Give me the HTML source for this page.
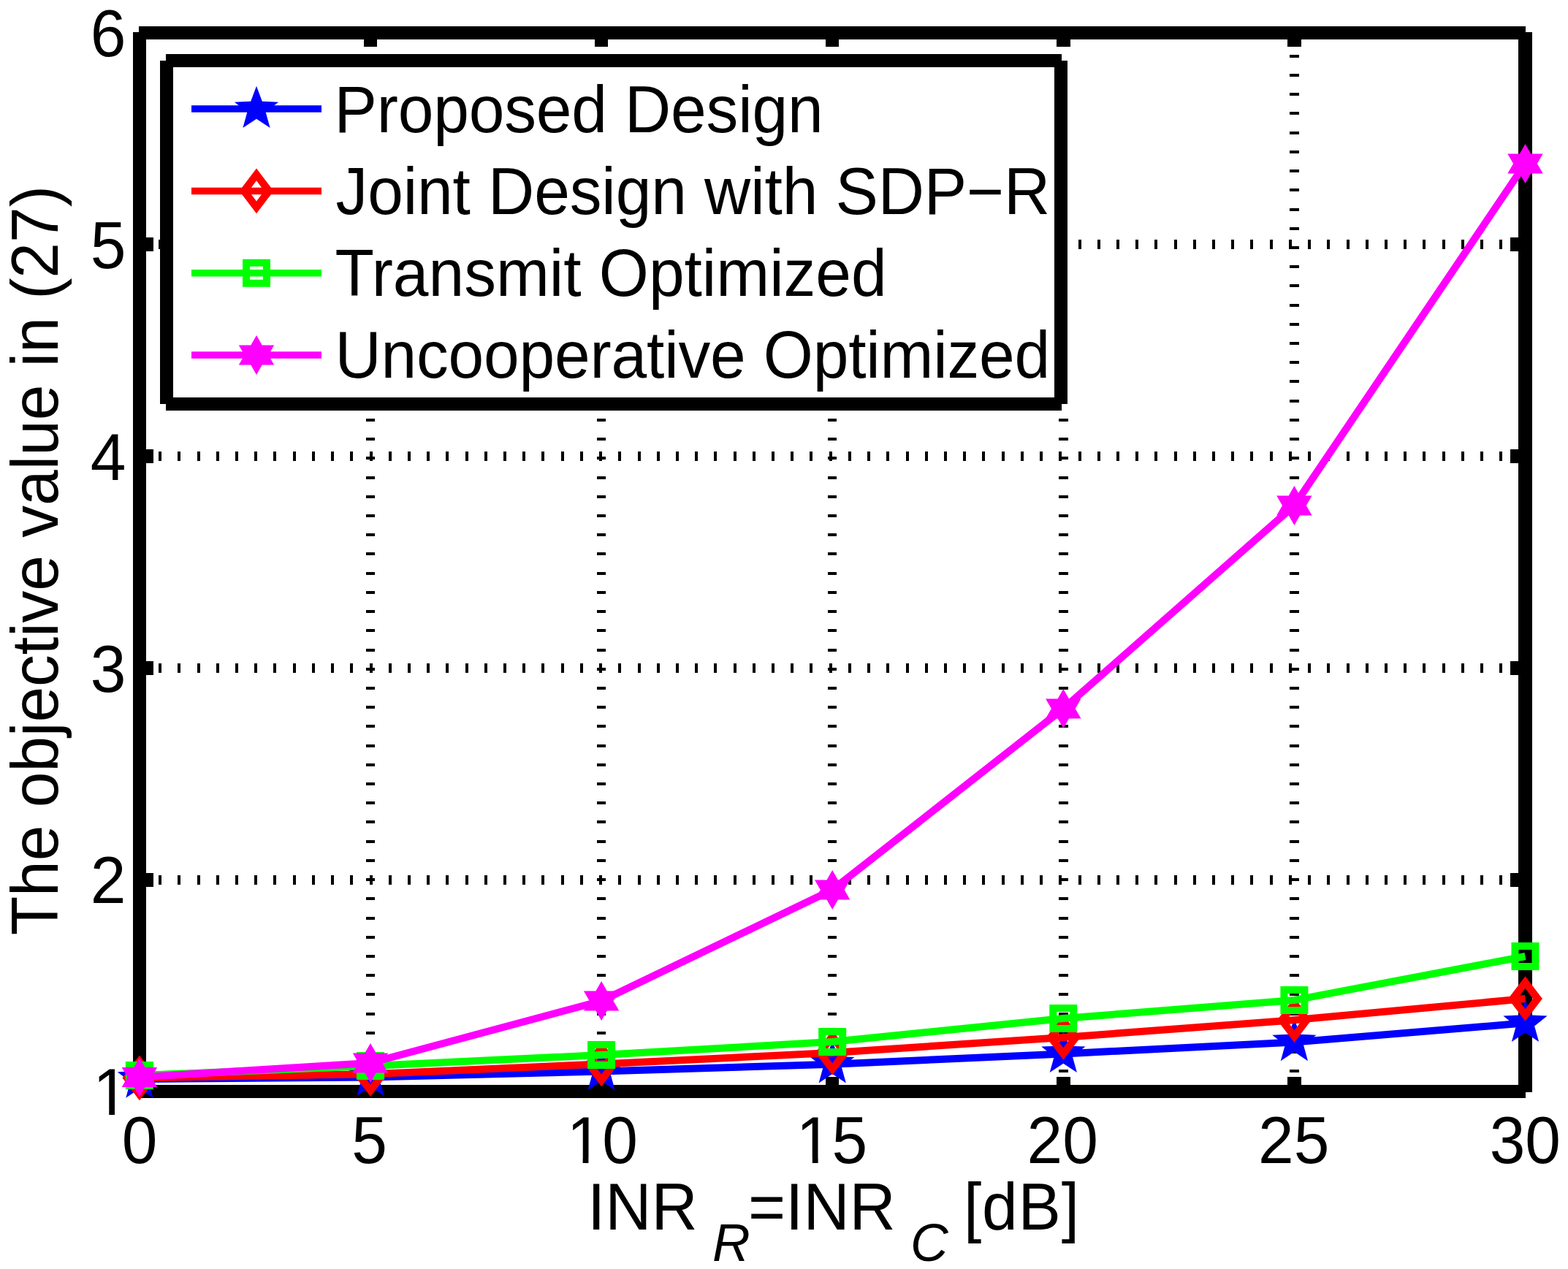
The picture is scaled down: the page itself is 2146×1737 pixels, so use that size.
<!DOCTYPE html>
<html><head><meta charset="utf-8"><title>The objective value in (27) vs INR</title>
<style>html,body{margin:0;padding:0;background:#fff;}svg{display:block;}text{font-family:"Liberation Sans",Arial,Helvetica,sans-serif;fill:#000;}</style></head><body>
<svg width="2146" height="1737" viewBox="0 0 2146 1737">
<rect x="0" y="0" width="2146" height="1737" fill="#fff"/>
<g stroke="#000" stroke-width="12.5" stroke-dasharray="4 22.217" fill="none" shape-rendering="crispEdges">
<line x1="507" y1="1494.5" x2="507" y2="44.5"/>
<line x1="823.1" y1="1494.5" x2="823.1" y2="44.5"/>
<line x1="1139.2" y1="1494.5" x2="1139.2" y2="44.5"/>
<line x1="1455.3" y1="1494.5" x2="1455.3" y2="44.5"/>
<line x1="1771.4" y1="1494.5" x2="1771.4" y2="44.5"/>
<line x1="190.9" y1="1204.5" x2="2087.5" y2="1204.5"/>
<line x1="190.9" y1="914.5" x2="2087.5" y2="914.5"/>
<line x1="190.9" y1="624.5" x2="2087.5" y2="624.5"/>
<line x1="190.9" y1="334.5" x2="2087.5" y2="334.5"/>
</g>
<g fill="#000" shape-rendering="crispEdges">
<rect x="190" y="36" width="1898" height="18"/>
<rect x="190" y="1485" width="1898" height="18"/>
<rect x="182" y="44" width="18" height="1451"/>
<rect x="2078" y="44" width="19" height="1451"/>
<rect x="497.75" y="54" width="18.5" height="10"/>
<rect x="497.75" y="1474" width="18.5" height="11"/>
<rect x="813.85" y="54" width="18.5" height="10"/>
<rect x="813.85" y="1474" width="18.5" height="11"/>
<rect x="1129.95" y="54" width="18.5" height="10"/>
<rect x="1129.95" y="1474" width="18.5" height="11"/>
<rect x="1446.05" y="54" width="18.5" height="10"/>
<rect x="1446.05" y="1474" width="18.5" height="11"/>
<rect x="1762.15" y="54" width="18.5" height="10"/>
<rect x="1762.15" y="1474" width="18.5" height="11"/>
<rect x="200" y="1195.25" width="10" height="18.5"/>
<rect x="2067" y="1195.25" width="11" height="18.5"/>
<rect x="200" y="905.25" width="10" height="18.5"/>
<rect x="2067" y="905.25" width="11" height="18.5"/>
<rect x="200" y="615.25" width="10" height="18.5"/>
<rect x="2067" y="615.25" width="11" height="18.5"/>
<rect x="200" y="325.25" width="10" height="18.5"/>
<rect x="2067" y="325.25" width="11" height="18.5"/>
</g>
<polyline points="190.9,1477 507,1474.4 823.1,1466.6 1139.2,1456.75 1455.3,1442.4 1771.4,1426.5 2087.5,1400.3" fill="none" stroke="#0000ff" stroke-width="10" stroke-linejoin="round" stroke-linecap="butt"/>
<path d="M190.9,1445.3 L198.72,1466.24 L221.05,1467.2 L203.55,1481.11 L209.53,1502.65 L190.9,1490.3 L172.27,1502.65 L178.25,1481.11 L160.75,1467.2 L183.08,1466.24Z M507,1442.7 L514.82,1463.64 L537.15,1464.6 L519.65,1478.51 L525.63,1500.05 L507,1487.7 L488.37,1500.05 L494.35,1478.51 L476.85,1464.6 L499.18,1463.64Z M823.1,1434.9 L830.92,1455.84 L853.25,1456.8 L835.75,1470.71 L841.73,1492.25 L823.1,1479.9 L804.47,1492.25 L810.45,1470.71 L792.95,1456.8 L815.28,1455.84Z M1139.2,1425.05 L1147.02,1445.99 L1169.35,1446.95 L1151.85,1460.86 L1157.83,1482.4 L1139.2,1470.05 L1120.57,1482.4 L1126.55,1460.86 L1109.05,1446.95 L1131.38,1445.99Z M1455.3,1410.7 L1463.12,1431.64 L1485.45,1432.6 L1467.95,1446.51 L1473.93,1468.05 L1455.3,1455.7 L1436.67,1468.05 L1442.65,1446.51 L1425.15,1432.6 L1447.48,1431.64Z M1771.4,1394.8 L1779.22,1415.74 L1801.55,1416.7 L1784.05,1430.61 L1790.03,1452.15 L1771.4,1439.8 L1752.77,1452.15 L1758.75,1430.61 L1741.25,1416.7 L1763.58,1415.74Z M2087.5,1368.6 L2095.32,1389.54 L2117.65,1390.5 L2100.15,1404.41 L2106.13,1425.95 L2087.5,1413.6 L2068.87,1425.95 L2074.85,1404.41 L2057.35,1390.5 L2079.68,1389.54Z" fill="#0000ff" fill-rule="evenodd"/>
<polyline points="190.9,1475.4 507,1470.2 823.1,1456.4 1139.2,1441 1455.3,1420 1771.4,1396.2 2087.5,1367" fill="none" stroke="#ff0000" stroke-width="10" stroke-linejoin="round" stroke-linecap="butt"/>
<path d="M190.9,1444.6 L214.3,1475.4 L190.9,1506.2 L167.5,1475.4Z M190.9,1461.2 L180.5,1475.4 L190.9,1489.6 L201.3,1475.4Z M507,1439.4 L530.4,1470.2 L507,1501 L483.6,1470.2Z M507,1456 L496.6,1470.2 L507,1484.4 L517.4,1470.2Z M823.1,1425.6 L846.5,1456.4 L823.1,1487.2 L799.7,1456.4Z M823.1,1442.2 L812.7,1456.4 L823.1,1470.6 L833.5,1456.4Z M1139.2,1410.2 L1162.6,1441 L1139.2,1471.8 L1115.8,1441Z M1139.2,1426.8 L1128.8,1441 L1139.2,1455.2 L1149.6,1441Z M1455.3,1389.2 L1478.7,1420 L1455.3,1450.8 L1431.9,1420Z M1455.3,1405.8 L1444.9,1420 L1455.3,1434.2 L1465.7,1420Z M1771.4,1365.4 L1794.8,1396.2 L1771.4,1427 L1748,1396.2Z M1771.4,1382 L1761,1396.2 L1771.4,1410.4 L1781.8,1396.2Z M2087.5,1336.2 L2110.9,1367 L2087.5,1397.8 L2064.1,1367Z M2087.5,1352.8 L2077.1,1367 L2087.5,1381.2 L2097.9,1367Z" fill="#ff0000" fill-rule="evenodd"/>
<polyline points="190.9,1472 507,1459 823.1,1444 1139.2,1426 1455.3,1394 1771.4,1369 2087.5,1309" fill="none" stroke="#00ff00" stroke-width="10" stroke-linejoin="round" stroke-linecap="butt"/>
<path d="M171.9,1453 h38 v38 h-38 Z M181.9,1463 v18 h18 v-18 Z M488,1440 h38 v38 h-38 Z M498,1450 v18 h18 v-18 Z M804.1,1425 h38 v38 h-38 Z M814.1,1435 v18 h18 v-18 Z M1120.2,1407 h38 v38 h-38 Z M1130.2,1417 v18 h18 v-18 Z M1436.3,1375 h38 v38 h-38 Z M1446.3,1385 v18 h18 v-18 Z M1752.4,1350 h38 v38 h-38 Z M1762.4,1360 v18 h18 v-18 Z M2068.5,1290 h38 v38 h-38 Z M2078.5,1300 v18 h18 v-18 Z" fill="#00ff00" fill-rule="evenodd"/>
<polyline points="190.9,1474.4 507,1455 823.1,1370 1139.2,1218 1455.3,970 1771.4,692 2087.5,224" fill="none" stroke="#ff00ff" stroke-width="10" stroke-linejoin="round" stroke-linecap="butt"/>
<path d="M190.9,1447.4 L198.6,1460.9 L215.1,1460.9 L207.3,1474.4 L215.1,1487.9 L198.6,1487.9 L190.9,1501.4 L183.2,1487.9 L166.7,1487.9 L174.5,1474.4 L166.7,1460.9 L183.2,1460.9Z M507,1428 L514.7,1441.5 L531.2,1441.5 L523.4,1455 L531.2,1468.5 L514.7,1468.5 L507,1482 L499.3,1468.5 L482.8,1468.5 L490.6,1455 L482.8,1441.5 L499.3,1441.5Z M823.1,1343 L830.8,1356.5 L847.3,1356.5 L839.5,1370 L847.3,1383.5 L830.8,1383.5 L823.1,1397 L815.4,1383.5 L798.9,1383.5 L806.7,1370 L798.9,1356.5 L815.4,1356.5Z M1139.2,1191 L1146.9,1204.5 L1163.4,1204.5 L1155.6,1218 L1163.4,1231.5 L1146.9,1231.5 L1139.2,1245 L1131.5,1231.5 L1115,1231.5 L1122.8,1218 L1115,1204.5 L1131.5,1204.5Z M1455.3,943 L1463,956.5 L1479.5,956.5 L1471.7,970 L1479.5,983.5 L1463,983.5 L1455.3,997 L1447.6,983.5 L1431.1,983.5 L1438.9,970 L1431.1,956.5 L1447.6,956.5Z M1771.4,665 L1779.1,678.5 L1795.6,678.5 L1787.8,692 L1795.6,705.5 L1779.1,705.5 L1771.4,719 L1763.7,705.5 L1747.2,705.5 L1755,692 L1747.2,678.5 L1763.7,678.5Z M2087.5,197 L2095.2,210.5 L2111.7,210.5 L2103.9,224 L2111.7,237.5 L2095.2,237.5 L2087.5,251 L2079.8,237.5 L2063.3,237.5 L2071.1,224 L2063.3,210.5 L2079.8,210.5Z" fill="#ff00ff" fill-rule="nonzero"/>
<defs>
<clipPath id="c10" clipPathUnits="userSpaceOnUse"><rect x="755.65" y="1472.3" width="400" height="112.6"/><rect x="797.65" y="1584.4" width="7.75" height="12"/><rect x="824.3" y="1584.4" width="300" height="12"/></clipPath>
<clipPath id="c15" clipPathUnits="userSpaceOnUse"><rect x="1069.85" y="1472.3" width="400" height="112.6"/><rect x="1111.85" y="1584.4" width="7.75" height="12"/><rect x="1138.5" y="1584.4" width="300" height="12"/></clipPath>
<clipPath id="c1" clipPathUnits="userSpaceOnUse"><rect x="107.25" y="1405.8" width="400" height="112.6"/><rect x="149.25" y="1517.9" width="7.75" height="12"/><rect x="175.9" y="1517.9" width="300" height="12"/></clipPath>
</defs>
<g>
<text transform="translate(191,1592.3) scale(1,1.03)" font-size="87.5" text-anchor="middle">0</text>
<text transform="translate(505.6,1592.3) scale(1,1.03)" font-size="87.5" text-anchor="middle">5</text>
<g clip-path="url(#c10)"><text transform="translate(824.3,1592.3) scale(1,1.03)" font-size="87.5" text-anchor="middle">10</text></g>
<g clip-path="url(#c15)"><text transform="translate(1138.5,1592.3) scale(1,1.03)" font-size="87.5" text-anchor="middle">15</text></g>
<text transform="translate(1454.2,1592.3) scale(1,1.03)" font-size="87.5" text-anchor="middle">20</text>
<text transform="translate(1770.7,1592.3) scale(1,1.03)" font-size="87.5" text-anchor="middle">25</text>
<text transform="translate(2087.3,1592.3) scale(1,1.03)" font-size="87.5" text-anchor="middle">30</text>
<g clip-path="url(#c1)"><text transform="translate(175.9,1525.8) scale(1,1.03)" font-size="87.5" text-anchor="end">1</text></g>
<text transform="translate(172.5,1235.9) scale(1,1.03)" font-size="87.5" text-anchor="end">2</text>
<text transform="translate(172.5,947) scale(1,1.03)" font-size="87.5" text-anchor="end">3</text>
<text transform="translate(172.5,656.8) scale(1,1.03)" font-size="87.5" text-anchor="end">4</text>
<text transform="translate(172.5,366.7) scale(1,1.03)" font-size="87.5" text-anchor="end">5</text>
<text transform="translate(172.5,76.8) scale(1,1.03)" font-size="87.5" text-anchor="end">6</text>
</g>
<text transform="translate(804,1682.6) scale(1,1.03)" font-size="87.5">INR</text>
<text transform="translate(975,1725.6) scale(1,1)" font-size="71.5" font-style="italic">R</text>
<text transform="translate(1024,1682.6) scale(1,1.03)" font-size="87.5">=INR</text>
<text transform="translate(1246,1725.6) scale(1,1)" font-size="71.5" font-style="italic">C</text>
<text transform="translate(1319,1682.6) scale(1,1.03)" font-size="87.5" textLength="158" lengthAdjust="spacing">[dB]</text>
<text transform="translate(79,767.3) rotate(-90) scale(1,1.03)" text-anchor="middle" font-size="87.5">The objective value in (27)</text>
<rect x="219" y="74" width="1243" height="488" fill="#fff"/>
<g fill="#000" shape-rendering="crispEdges">
<rect x="227" y="74" width="1226" height="18"/>
<rect x="227" y="543.5" width="1226" height="18.5"/>
<rect x="219" y="83" width="18" height="470"/>
<rect x="1443" y="83" width="18" height="470"/>
</g>
<line x1="262" y1="149.05" x2="440" y2="149.05" stroke="#0000ff" stroke-width="9.5"/>
<path d="M351,117.75 L358.82,138.69 L381.15,139.65 L363.65,153.56 L369.63,175.1 L351,162.75 L332.37,175.1 L338.35,153.56 L320.85,139.65 L343.18,138.69Z" fill="#0000ff" fill-rule="evenodd"/>
<text transform="translate(457.5,181) scale(1,1.03)" font-size="87.5" textLength="669.2" lengthAdjust="spacing">Proposed Design</text>
<line x1="262" y1="261.38" x2="440" y2="261.38" stroke="#ff0000" stroke-width="9.5"/>
<path d="M351,230.58 L374.4,261.38 L351,292.18 L327.6,261.38Z M351,247.18 L340.6,261.38 L351,275.58 L361.4,261.38Z" fill="#ff0000" fill-rule="evenodd"/>
<text transform="translate(459.5,293) scale(1,1.03)" font-size="87.5" textLength="977.8" lengthAdjust="spacing">Joint Design with SDP&#8722;R</text>
<line x1="262" y1="373.71" x2="440" y2="373.71" stroke="#00ff00" stroke-width="9.5"/>
<path d="M332,354.71 h38 v38 h-38 Z M342,364.71 v18 h18 v-18 Z" fill="#00ff00" fill-rule="evenodd"/>
<text transform="translate(458.5,405) scale(1,1.03)" font-size="87.5">Transmit Optimized</text>
<line x1="262" y1="486.04" x2="440" y2="486.04" stroke="#ff00ff" stroke-width="9.5"/>
<path d="M351,459.04 L358.7,472.54 L375.2,472.54 L367.4,486.04 L375.2,499.54 L358.7,499.54 L351,513.04 L343.3,499.54 L326.8,499.54 L334.6,486.04 L326.8,472.54 L343.3,472.54Z" fill="#ff00ff" fill-rule="nonzero"/>
<text transform="translate(458.5,517) scale(1,1.03)" font-size="87.5" textLength="978.8" lengthAdjust="spacing">Uncooperative Optimized</text>
</svg></body></html>
